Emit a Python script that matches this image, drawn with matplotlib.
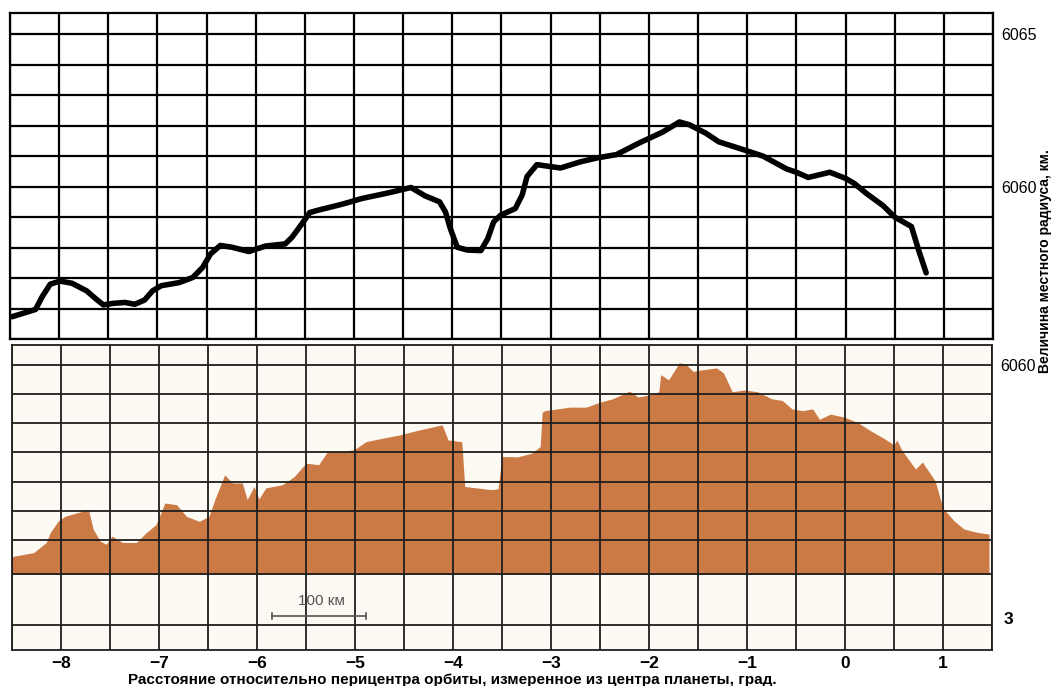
import matplotlib
matplotlib.use("Agg")
import matplotlib.pyplot as plt
import numpy as np

plt.rcParams['font.family'] = ['Liberation Sans', 'DejaVu Sans']

# top panel: altimeter profile (deg, km)
top_deg = [-8.48, -8.24, -8.17, -8.09, -7.99, -7.87, -7.72, -7.62, -7.55, -7.45,
           -7.33, -7.23, -7.13, -7.05, -6.96, -6.78, -6.64, -6.54, -6.46, -6.36,
           -6.24, -6.07, -5.90, -5.70, -5.63, -5.53, -5.45, -5.36, -5.16, -5.09,
           -4.92, -4.67, -4.42, -4.28, -4.13, -4.07, -4.02, -3.95, -3.85, -3.71,
           -3.64, -3.58, -3.51, -3.36, -3.29, -3.24, -3.14, -2.90, -2.70, -2.53,
           -2.33, -2.10, -1.86, -1.69, -1.59, -1.42, -1.29, -1.00, -0.84, -0.60,
           -0.50, -0.38, -0.16, 0.00, 0.09, 0.21, 0.38, 0.50, 0.67, 0.74, 0.82]
top_km = [6055.73, 6055.97, 6056.40, 6056.80, 6056.90, 6056.83, 6056.58, 6056.30, 6056.12, 6056.17,
          6056.20, 6056.14, 6056.28, 6056.58, 6056.75, 6056.85, 6057.02, 6057.35, 6057.79, 6058.07,
          6058.01, 6057.87, 6058.05, 6058.12, 6058.34, 6058.78, 6059.15, 6059.23, 6059.39, 6059.45,
          6059.61, 6059.78, 6059.97, 6059.70, 6059.50, 6059.17, 6058.62, 6058.01, 6057.92, 6057.90,
          6058.29, 6058.84, 6059.06, 6059.28, 6059.72, 6060.33, 6060.72, 6060.61, 6060.81, 6060.94,
          6061.05, 6061.43, 6061.79, 6062.12, 6062.03, 6061.75, 6061.47, 6061.17, 6061.00, 6060.58,
          6060.47, 6060.30, 6060.47, 6060.27, 6060.10, 6059.78, 6059.38, 6059.00, 6058.69, 6057.95, 6057.17]

# bottom panel: radar profile (deg, km)
bot_deg = [-8.50, -8.48, -8.28, -8.15, -8.11, -8.03, -7.96, -7.84, -7.72, -7.67,
           -7.60, -7.54, -7.48, -7.37, -7.23, -7.13, -7.03, -6.94, -6.82, -6.72,
           -6.59, -6.49, -6.43, -6.33, -6.25, -6.15, -6.10, -6.03, -5.98, -5.91,
           -5.74, -5.62, -5.50, -5.37, -5.28, -5.16, -5.01, -4.89, -4.72, -4.55,
           -4.35, -4.11, -4.05, -3.91, -3.88, -3.61, -3.54, -3.50, -3.34, -3.20,
           -3.11, -3.09, -3.06, -2.81, -2.64, -2.50, -2.37, -2.29, -2.20, -2.11,
           -2.01, -1.90, -1.88, -1.80, -1.69, -1.62, -1.55, -1.45, -1.31, -1.24,
           -1.15, -1.03, -0.89, -0.75, -0.64, -0.54, -0.43, -0.33, -0.26, -0.15,
           -0.01, 0.13, 0.27, 0.39, 0.50, 0.53, 0.58, 0.72, 0.79, 0.85,
           0.92, 1.00, 1.11, 1.21, 1.35, 1.47]
bot_km = [6053.40, 6053.43, 6053.55, 6053.90, 6054.24, 6054.63, 6054.80, 6054.92, 6055.03, 6054.35,
          6053.95, 6053.84, 6054.12, 6053.90, 6053.90, 6054.24, 6054.52, 6055.26, 6055.20, 6054.80,
          6054.63, 6054.80, 6055.38, 6056.23, 6055.95, 6055.95, 6055.38, 6055.83, 6055.40, 6055.78,
          6055.89, 6056.17, 6056.63, 6056.58, 6057.03, 6057.03, 6057.09, 6057.37, 6057.49, 6057.60,
          6057.77, 6057.95, 6057.43, 6057.37, 6055.83, 6055.72, 6055.75, 6056.86, 6056.85, 6056.97,
          6057.20, 6058.38, 6058.44, 6058.56, 6058.56, 6058.73, 6058.85, 6058.97, 6059.11, 6058.91,
          6058.97, 6059.09, 6059.68, 6059.50, 6060.09, 6060.03, 6059.79, 6059.85, 6059.91, 6059.74,
          6059.09, 6059.15, 6059.09, 6058.85, 6058.79, 6058.50, 6058.44, 6058.50, 6058.14, 6058.32,
          6058.22, 6058.03, 6057.73, 6057.50, 6057.26, 6057.43, 6057.08, 6056.43, 6056.67, 6056.37,
          6056.02, 6055.08, 6054.66, 6054.37, 6054.25, 6054.19]
bot_base = 6052.8

x_ticks = [-8, -7, -6, -5, -4, -3, -2, -1, 0, 1]
x_grid = np.arange(-8.5, 1.51, 0.5)
top_grid = np.arange(6055, 6066, 1)
top_labels = {6065: '6065', 6060: '6060'}
bot_grid = [6060, 6059, 6058, 6057, 6056, 6055, 6054, 6052.8, 6051.05]
bot_labels = {6060: '6060'}

# 100 km scale bar ends (deg)
scale_x = [-5.85, -4.885]
scale_y = 6051.38

fig = plt.figure(figsize=(10.6, 6.86), dpi=100)
ax1 = fig.add_axes([0.0094, 0.5058, 0.9274, 0.4755])
ax2 = fig.add_axes([0.0113, 0.0525, 0.9245, 0.4446])

xlim = (-8.5, 1.47)

# top panel
ax1.plot(top_deg, top_km, color='black', lw=4.0, solid_capstyle='round', solid_joinstyle='round', zorder=3)
ax1.set_xlim(*xlim)
ax1.set_ylim(6055, 6065.7)
ax1.yaxis.tick_right()
ax1.set_xticks(x_grid)
ax1.set_xticklabels([])
ax1.set_yticks(top_grid)
ax1.set_yticklabels([top_labels.get(v, '') for v in top_grid], fontsize=11.5)
ax1.tick_params(length=0, pad=6)
ax1.grid(True, color='black', lw=1.6)
for s in ax1.spines.values():
    s.set_linewidth(1.6)

# bottom panel
ax2.set_facecolor('#fcfaf3')
ax2.fill_between(bot_deg, bot_base, bot_km, color='#cb7a45', lw=0, zorder=1)
ax2.set_xlim(*xlim)
ax2.set_ylim(6050.2, 6060.7)
ax2.yaxis.tick_right()
ax2.set_xticks(x_grid)
ax2.set_xticklabels([('\u2212' + str(-int(v)) if v < 0 else str(int(v))) if v in x_ticks else '' for v in x_grid],
                    fontsize=12.5, fontweight='bold')
ax2.set_yticks(bot_grid)
ax2.set_yticklabels([bot_labels.get(v, '') for v in bot_grid], fontsize=11.5)
ax2.tick_params(length=0, pad=6)
ax2.tick_params(axis='x', pad=4)
ax2.grid(True, color='#1e1e1e', lw=1.3)
for s in ax2.spines.values():
    s.set_linewidth(1.3)
    s.set_color('#1e1e1e')

ax2.text(1.012, 6051.25, '3', transform=ax2.get_yaxis_transform(), ha='left', va='center',
         fontsize=12.5, fontweight='bold')

# 100 km scale bar
ax2.plot(scale_x, [scale_y, scale_y], color='#555555', lw=1.2)
ax2.plot([scale_x[0], scale_x[0]], [scale_y - 0.1, scale_y + 0.1], color='#555555', lw=1.2)
ax2.plot([scale_x[1], scale_x[1]], [scale_y - 0.1, scale_y + 0.1], color='#555555', lw=1.2)
ax2.text(-5.34, scale_y + 0.25, '100 км', ha='center', va='bottom', fontsize=11, color='#555555')

ax2.set_xlabel('Расстояние относительно перицентра орбиты, измеренное из центра планеты, град.',
               fontsize=11, fontweight='bold')
ax2.xaxis.set_label_coords(0.449, -0.075)

fig.text(0.986, 0.62, 'Величина местного радиуса, км.', rotation=90, ha='center', va='center',
         fontsize=10, fontweight='bold')

fig.savefig('out.png', dpi=100)
